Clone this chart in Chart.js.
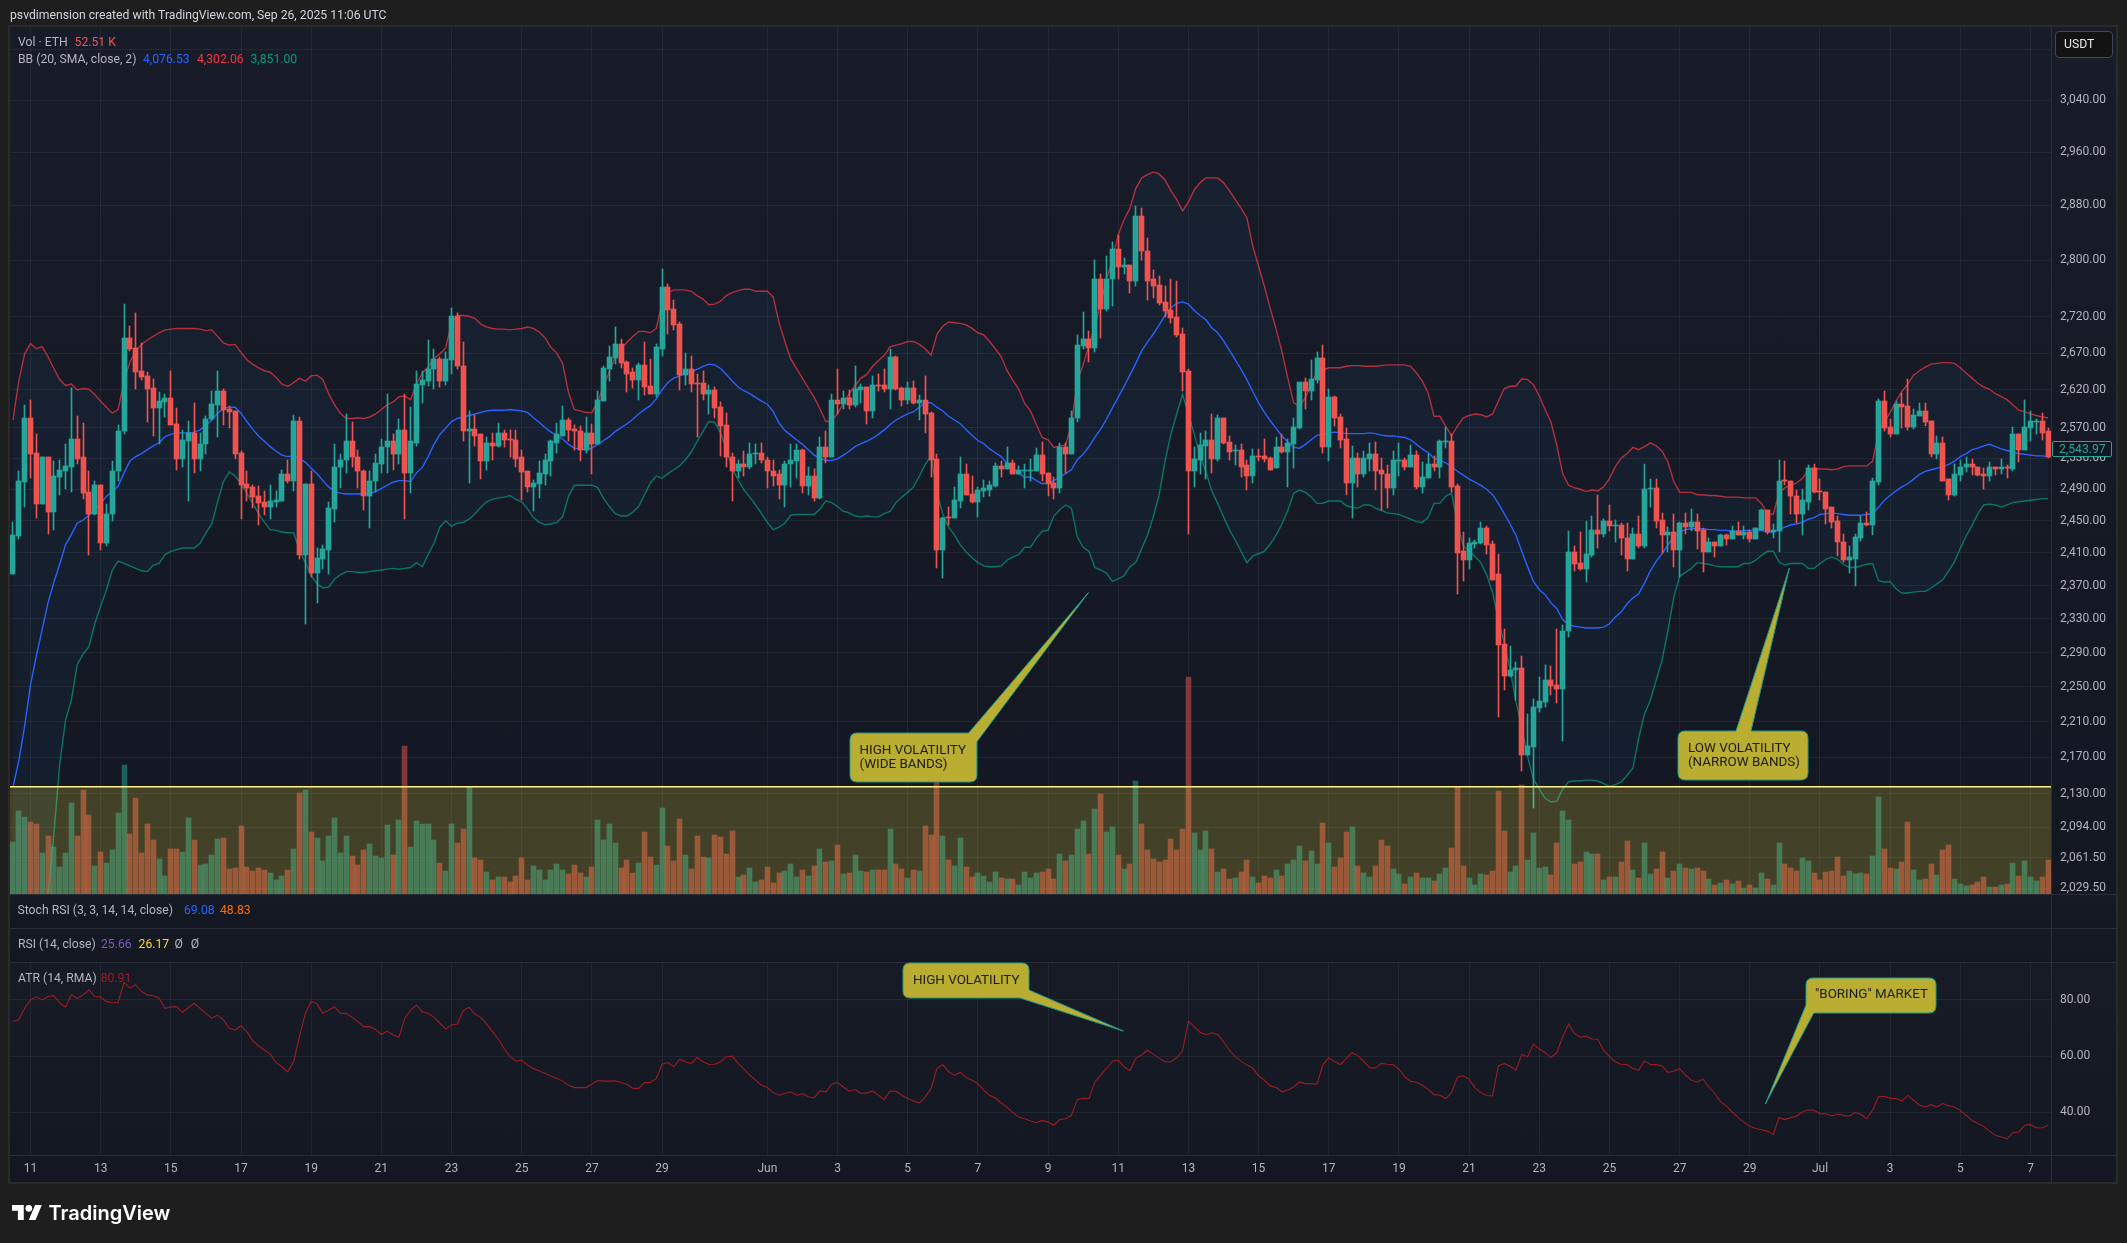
<!DOCTYPE html>
<html><head><meta charset="utf-8">
<script src="https://cdn.jsdelivr.net/npm/chart.js@4/dist/chart.umd.min.js"></script>
<style>
html,body{margin:0;padding:0;background:#1e1e1e;width:2127px;height:1243px;overflow:hidden;font-family:Roboto,sans-serif}
.a{position:absolute}
.t{position:absolute;white-space:pre;transform:translateY(-50%);font-size:12.2px;line-height:14px}
.c{font-size:13.4px}
canvas{position:absolute;display:block}
</style></head><body>
<div class="a" style="left:8px;top:25px;width:2106px;height:1155px;border:2px solid #2a2a2a"></div>
<div class="a" style="left:10px;top:27px;width:2106px;height:867px;background:linear-gradient(#181c28,#131722)"></div>
<div class="a" style="left:10px;top:894px;width:2106px;height:34px;background:linear-gradient(#161a25,#131722)"></div>
<div class="a" style="left:10px;top:928px;width:2106px;height:34px;background:linear-gradient(#161a25,#131722)"></div>
<div class="a" style="left:10px;top:962px;width:2106px;height:220px;background:linear-gradient(#171b26,#131722)"></div>
<canvas id="main" width="2106" height="867" style="left:10px;top:27px"></canvas>
<canvas id="atr" width="2106" height="220" style="left:10px;top:962px"></canvas>
<div class="a" style="left:10px;top:894px;width:2106px;height:1px;background:#2a2e39"></div>
<div class="a" style="left:10px;top:928px;width:2106px;height:1px;background:#2a2e39"></div>
<div class="a" style="left:10px;top:962px;width:2106px;height:1px;background:#2a2e39"></div>
<div class="a" style="left:10px;top:1155px;width:2106px;height:1px;background:#2a2e39"></div>
<div class="a" style="left:2051px;top:27px;width:1px;height:1155px;background:#2a2e39"></div>
<svg class="a" style="left:0;top:0" width="2127" height="1243">
<g fill="#b9ae32" stroke="#1f9c8c" stroke-width="1">
<path d="M857,733 H968.6 L1088.4,592.7 L976.9,741.7 V775 Q976.9,782 970,782 H857 Q850,782 850,775 V740 Q850,733 857,733 Z"/>
<path d="M1685,731 H1736 L1789.4,568 L1751,731 H1801 Q1808,731 1808,738 V773 Q1808,780 1801,780 H1685 Q1678,780 1678,773 V738 Q1678,731 1685,731 Z"/>
<path d="M910,963 H1022 Q1029,963 1029,970 V990 L1123.3,1031 L1020,998 H910 Q903,998 903,991 V970 Q903,963 910,963 Z"/>
<path d="M1813,978 H1929 Q1936,978 1936,985 V1006 Q1936,1013 1929,1013 H1813.7 L1765.4,1104 L1806,1005 V985 Q1806,978 1813,978 Z"/>
</g>
<g transform="translate(12,1201.6) scale(.84)" fill="#fff"><path d="M14 22H7V11H0V4h14v18zM28 22h-8l7.5-18h8L28 22z"/><circle cx="20" cy="8" r="4"/></g>
</svg>
<div class="a" style="left:2055px;top:31px;width:56px;height:25px;background:#131313;border:1px solid #434651;border-radius:4px"></div>
<div class="a" style="left:2052px;top:441px;width:58px;height:14px;background:#131722;border:1px solid #26a69a;border-radius:2px"></div>
<div id="texts"></div>
<script>
const opens=[2384,2431,2499,2583,2537,2471,2531,2461,2506,2514,2519,2555,2531,2487,2458,2496,2422,2458,2513,2565,
2691,2677,2645,2639,2623,2596,2604,2609,2575,2529,2553,2563,2529,2548,2581,2600,2619,2594,2592,2537,
2497,2493,2481,2474,2468,2474,2475,2509,2501,2579,2407,2497,2385,2403,2414,2465,2518,2527,2553,2532,
2514,2481,2500,2523,2544,2552,2536,2567,2511,2550,2627,2632,2648,2662,2632,2661,2721,2653,2566,2568,
2561,2526,2550,2546,2563,2555,2554,2531,2513,2493,2497,2510,2526,2550,2559,2580,2568,2566,2540,2563,
2548,2605,2649,2663,2683,2658,2644,2633,2654,2626,2615,2676,2762,2731,2710,2640,2648,2630,2630,2615,
2620,2597,2574,2532,2513,2522,2518,2536,2537,2528,2514,2509,2496,2522,2526,2540,2494,2507,2479,2545,
2531,2606,2601,2609,2600,2620,2624,2592,2627,2627,2622,2665,2623,2606,2623,2602,2607,2589,2529,2413,
2454,2453,2475,2510,2484,2474,2488,2489,2494,2520,2516,2524,2510,2513,2514,2514,2534,2511,2498,2491,
2545,2535,2582,2680,2689,2677,2774,2731,2773,2817,2791,2793,2771,2865,2814,2773,2765,2741,2729,2720,
2696,2646,2514,2527,2546,2554,2529,2582,2551,2539,2541,2521,2507,2533,2533,2530,2517,2545,2538,2549,
2570,2631,2619,2634,2663,2545,2610,2584,2555,2498,2530,2510,2529,2535,2515,2510,2491,2526,2527,2519,
2534,2493,2505,2523,2518,2551,2553,2494,2412,2401,2421,2422,2441,2421,2384,2300,2263,2269,2272,2173,
2182,2226,2233,2258,2252,2247,2315,2411,2397,2390,2407,2438,2433,2450,2443,2445,2429,2403,2433,2418,
2490,2491,2451,2432,2436,2414,2447,2442,2449,2438,2411,2423,2419,2432,2427,2437,2432,2436,2427,2439,
2464,2436,2437,2501,2501,2482,2459,2474,2517,2487,2487,2467,2450,2424,2401,2403,2429,2447,2445,2499,
2605,2571,2561,2601,2598,2571,2585,2592,2579,2535,2550,2503,2483,2508,2518,2523,2519,2509,2507,2518,
2516,2519,2516,2561,2541,2570,2578,2579,2565];
const closes=[2432,2500,2583,2536,2471,2531,2461,2507,2515,2520,2555,2529,2485,2458,2496,2422,2459,2514,2566,2691,
2676,2644,2637,2622,2596,2605,2609,2574,2529,2554,2563,2529,2549,2581,2601,2619,2593,2591,2536,2496,
2492,2480,2472,2468,2475,2476,2509,2501,2579,2407,2497,2385,2404,2415,2466,2519,2528,2553,2531,2513,
2481,2501,2524,2545,2552,2536,2567,2511,2552,2628,2633,2649,2662,2632,2662,2721,2652,2566,2568,2559,
2526,2550,2546,2563,2554,2554,2529,2512,2493,2498,2511,2527,2552,2561,2580,2567,2565,2540,2563,2548,
2606,2650,2665,2683,2657,2642,2633,2654,2624,2615,2678,2762,2730,2709,2640,2648,2628,2628,2615,2620,
2596,2572,2531,2513,2522,2518,2536,2537,2527,2513,2507,2496,2523,2527,2540,2494,2507,2479,2545,2531,
2606,2601,2609,2600,2622,2624,2592,2627,2626,2622,2665,2622,2606,2623,2602,2607,2588,2528,2413,2454,
2453,2476,2510,2483,2474,2489,2491,2496,2520,2516,2524,2510,2515,2513,2515,2534,2510,2497,2491,2545,
2535,2583,2681,2689,2677,2774,2731,2774,2817,2790,2793,2771,2865,2813,2771,2764,2740,2728,2719,2695,
2644,2514,2529,2547,2554,2529,2582,2550,2538,2541,2519,2507,2533,2531,2529,2515,2545,2538,2550,2571,
2631,2619,2635,2663,2545,2610,2583,2554,2498,2530,2510,2530,2535,2514,2509,2491,2527,2527,2519,2534,
2493,2506,2523,2518,2553,2553,2493,2410,2401,2422,2424,2441,2420,2377,2299,2263,2270,2272,2173,2183,
2227,2234,2258,2251,2247,2316,2411,2396,2390,2409,2438,2433,2450,2443,2445,2428,2403,2433,2418,2490,
2491,2450,2432,2436,2414,2447,2442,2449,2437,2411,2423,2419,2432,2427,2437,2432,2436,2427,2441,2464,
2436,2438,2501,2500,2481,2459,2476,2517,2486,2486,2465,2449,2423,2401,2405,2430,2447,2445,2500,2605,
2570,2561,2601,2597,2571,2587,2592,2578,2535,2550,2501,2483,2509,2519,2523,2518,2508,2507,2518,2516,
2519,2517,2561,2541,2571,2579,2579,2563,2532];
const highs=[2448,2513,2600,2607,2562,2531,2532,2526,2528,2549,2623,2585,2576,2513,2500,2496,2471,2526,2574,2738,
2708,2725,2684,2644,2635,2617,2615,2645,2596,2567,2579,2602,2563,2585,2619,2646,2622,2598,2592,2539,
2514,2496,2494,2488,2496,2488,2515,2528,2587,2584,2497,2514,2416,2420,2474,2548,2535,2588,2578,2540,
2515,2513,2536,2555,2615,2562,2581,2614,2597,2645,2645,2688,2676,2665,2671,2733,2725,2685,2592,2587,
2562,2557,2563,2576,2567,2567,2567,2540,2513,2502,2526,2536,2554,2576,2598,2583,2574,2572,2584,2575,
2618,2653,2680,2706,2689,2659,2650,2657,2685,2662,2683,2788,2767,2744,2713,2670,2666,2642,2646,2627,
2624,2604,2589,2537,2527,2539,2550,2549,2550,2531,2527,2515,2526,2548,2548,2542,2519,2516,2557,2566,
2614,2648,2619,2620,2653,2628,2624,2639,2642,2648,2676,2666,2624,2631,2632,2613,2639,2591,2536,2455,
2468,2493,2532,2523,2507,2493,2502,2501,2524,2526,2545,2527,2520,2522,2529,2543,2551,2511,2506,2550,
2550,2592,2695,2727,2700,2800,2780,2807,2827,2836,2804,2793,2879,2876,2832,2786,2777,2763,2774,2771,
2704,2648,2545,2563,2566,2588,2586,2582,2559,2547,2549,2527,2542,2542,2555,2531,2558,2562,2555,2583,
2570,2636,2660,2672,2681,2622,2612,2588,2570,2546,2537,2539,2550,2551,2530,2521,2539,2550,2530,2547,
2539,2525,2535,2533,2554,2571,2562,2497,2436,2429,2426,2448,2444,2425,2409,2318,2298,2279,2286,2219,
2236,2261,2275,2274,2318,2323,2437,2418,2436,2450,2456,2483,2452,2470,2451,2447,2447,2441,2456,2522,
2503,2503,2460,2442,2459,2449,2460,2465,2458,2441,2429,2424,2434,2434,2443,2449,2443,2439,2441,2465,
2464,2446,2527,2526,2501,2489,2490,2521,2523,2503,2487,2467,2456,2434,2419,2433,2456,2461,2504,2608,
2619,2581,2605,2616,2635,2594,2603,2603,2579,2559,2557,2503,2522,2527,2531,2529,2519,2517,2525,2519,
2529,2521,2571,2562,2606,2592,2581,2589,2570];
const lows=[2384,2427,2468,2504,2453,2471,2434,2439,2483,2490,2487,2522,2477,2408,2457,2413,2418,2450,2500,2561,
2673,2622,2634,2578,2559,2548,2584,2573,2515,2518,2475,2511,2513,2535,2580,2558,2574,2570,2529,2452,
2475,2466,2445,2457,2452,2467,2475,2498,2488,2403,2324,2380,2349,2390,2384,2449,2492,2511,2518,2492,
2463,2441,2486,2511,2511,2515,2522,2452,2485,2546,2602,2626,2622,2624,2627,2642,2649,2552,2498,2546,
2503,2515,2528,2545,2544,2532,2518,2476,2487,2462,2479,2496,2507,2537,2559,2553,2540,2526,2537,2510,
2548,2605,2632,2655,2650,2617,2623,2607,2613,2614,2611,2666,2696,2702,2620,2627,2617,2557,2606,2588,
2583,2533,2519,2475,2505,2507,2516,2523,2524,2492,2494,2478,2468,2493,2505,2485,2483,2475,2478,2524,
2531,2588,2594,2594,2597,2602,2575,2583,2618,2617,2594,2620,2598,2601,2601,2580,2563,2506,2391,2379,
2445,2453,2466,2483,2472,2455,2480,2481,2493,2506,2516,2509,2509,2491,2501,2514,2501,2482,2478,2485,
2511,2535,2578,2676,2658,2672,2691,2728,2735,2773,2780,2754,2764,2801,2744,2747,2737,2720,2712,2692,
2619,2434,2493,2509,2503,2511,2526,2549,2527,2521,2506,2489,2498,2526,2525,2515,2517,2537,2493,2517,
2570,2595,2607,2630,2537,2526,2572,2543,2483,2453,2493,2506,2514,2489,2463,2466,2483,2507,2515,2519,
2490,2485,2505,2514,2505,2543,2487,2360,2376,2390,2416,2421,2409,2377,2215,2246,2262,2235,2155,2173,
2114,2221,2227,2241,2232,2188,2308,2388,2389,2374,2405,2416,2430,2437,2424,2407,2388,2402,2416,2416,
2468,2441,2410,2411,2393,2381,2434,2437,2415,2387,2411,2405,2419,2420,2427,2432,2427,2424,2427,2439,
2433,2429,2411,2496,2458,2447,2432,2463,2485,2476,2446,2441,2406,2399,2385,2370,2425,2443,2432,2496,
2565,2558,2561,2570,2567,2568,2585,2572,2532,2529,2500,2476,2482,2500,2512,2508,2507,2490,2500,2508,
2509,2505,2514,2525,2541,2552,2562,2554,2530];
const volumes=[80,128,119,111,108,64,90,73,41,64,140,90,161,122,43,65,48,68,125,199,
93,148,64,108,83,54,28,70,70,65,117,83,45,46,60,85,87,39,40,105,
42,36,40,37,32,22,28,37,70,156,161,96,87,51,90,117,63,90,59,45,
68,77,59,56,107,60,114,228,73,113,108,108,83,48,36,108,79,100,165,56,
53,34,22,26,26,19,28,56,22,43,37,22,37,46,37,31,45,32,26,42,
114,83,108,79,40,53,32,48,96,57,45,133,74,51,116,60,39,90,57,56,
91,88,62,97,26,29,40,19,22,42,17,32,36,46,26,37,28,43,70,49,
51,76,31,32,60,36,34,37,37,37,100,46,39,25,37,36,105,91,178,90,
53,43,87,42,26,32,28,19,34,25,23,23,14,34,25,32,34,39,23,62,
51,60,100,113,62,131,155,96,104,60,39,46,175,108,68,54,49,53,85,68,
100,335,94,68,97,70,34,39,23,25,34,53,26,17,28,25,37,28,46,53,
74,51,66,46,110,79,42,56,96,104,43,32,26,43,83,74,39,31,15,26,
32,25,25,20,31,40,71,165,43,25,14,31,29,36,159,97,34,43,168,53,
94,40,42,29,79,128,114,46,49,65,62,62,22,26,26,49,82,37,25,79,
31,39,65,25,36,46,40,39,40,36,23,14,17,22,15,20,9,14,9,32,
23,14,79,46,40,36,56,51,32,22,34,36,57,28,36,31,32,31,59,150,
70,40,39,49,111,37,22,23,46,29,68,76,23,15,12,14,19,26,11,11,
14,15,48,28,51,26,20,26,52.51];
const bbUpper=[2580,2632,2669,2683,2676,2679,2665,2649,2634,2626,2628,2620,2622,2621,2614,2605,2597,2589,2594,2632,
2658,2673,2682,2688,2693,2698,2702,2703,2704,2704,2704,2704,2703,2701,2702,2693,2684,2681,2682,2671,
2661,2655,2650,2646,2644,2637,2628,2625,2630,2636,2632,2639,2640,2634,2615,2600,2589,2582,2582,2583,
2582,2584,2588,2594,2600,2604,2611,2612,2607,2628,2643,2651,2663,2669,2677,2712,2722,2722,2721,2718,
2710,2706,2704,2703,2703,2702,2703,2704,2706,2704,2699,2691,2678,2670,2656,2617,2594,2592,2590,2590,
2604,2626,2645,2665,2676,2685,2693,2700,2700,2698,2704,2739,2754,2758,2758,2758,2756,2750,2745,2737,
2738,2742,2750,2754,2757,2759,2759,2756,2756,2756,2748,2712,2686,2662,2649,2636,2623,2610,2595,2578,
2579,2588,2602,2615,2626,2636,2641,2652,2660,2667,2679,2681,2683,2686,2686,2682,2676,2667,2696,2707,
2713,2712,2711,2709,2704,2698,2695,2686,2676,2665,2646,2633,2621,2602,2592,2574,2557,2554,2544,2546,
2547,2574,2632,2654,2681,2707,2739,2773,2801,2837,2859,2876,2905,2921,2926,2930,2927,2918,2902,2889,
2872,2885,2903,2914,2921,2921,2921,2914,2902,2889,2876,2862,2821,2792,2763,2732,2703,2672,2636,2603,
2598,2610,2627,2645,2647,2650,2650,2650,2652,2653,2653,2652,2652,2652,2653,2654,2654,2654,2654,2652,
2643,2632,2616,2585,2585,2572,2559,2572,2583,2586,2588,2587,2584,2588,2605,2622,2625,2625,2635,2634,
2627,2612,2594,2577,2547,2510,2495,2492,2490,2487,2489,2488,2493,2504,2519,2530,2536,2544,2541,2545,
2550,2546,2539,2525,2500,2486,2486,2486,2483,2483,2482,2482,2481,2480,2480,2480,2479,2479,2479,2472,
2459,2458,2485,2492,2495,2498,2504,2515,2517,2516,2516,2515,2516,2519,2520,2520,2520,2520,2526,2564,
2577,2590,2605,2618,2628,2640,2646,2651,2655,2656,2657,2657,2656,2650,2643,2636,2629,2624,2621,2615,
2611,2607,2600,2593,2591,2588,2586,2584,2583];
const bbMiddle=[2137,2166,2205,2252,2286,2317,2349,2374,2396,2420,2433,2447,2451,2457,2464,2472,2481,2487,2494,2511,
2526,2532,2536,2541,2546,2550,2558,2561,2563,2563,2563,2564,2567,2573,2580,2589,2595,2597,2597,2589,
2578,2568,2559,2552,2545,2539,2534,2532,2533,2529,2525,2517,2510,2501,2493,2487,2485,2484,2484,2484,
2484,2485,2487,2491,2495,2499,2501,2501,2500,2511,2518,2532,2548,2561,2569,2578,2582,2584,2586,2588,
2590,2592,2593,2593,2593,2594,2593,2592,2590,2583,2577,2570,2564,2560,2555,2548,2543,2542,2541,2543,
2548,2553,2558,2565,2570,2575,2581,2588,2594,2599,2608,2620,2630,2636,2639,2642,2645,2648,2652,2655,
2654,2649,2641,2632,2624,2619,2615,2610,2605,2601,2591,2576,2566,2560,2554,2548,2541,2534,2530,2527,
2527,2529,2534,2539,2545,2549,2552,2556,2561,2567,2574,2580,2584,2588,2591,2597,2603,2603,2597,2592,
2585,2580,2575,2567,2560,2553,2549,2542,2537,2532,2523,2517,2511,2505,2506,2501,2497,2498,2501,2506,
2510,2515,2528,2535,2545,2557,2568,2581,2596,2610,2625,2640,2656,2673,2685,2696,2709,2722,2733,2739,
2741,2738,2729,2722,2716,2705,2698,2687,2674,2661,2648,2634,2618,2603,2590,2579,2569,2559,2551,2544,
2543,2548,2554,2560,2560,2563,2564,2563,2562,2562,2562,2562,2563,2562,2560,2559,2559,2558,2557,2554,
2548,2542,2537,2530,2527,2524,2519,2513,2508,2503,2499,2495,2490,2483,2472,2459,2446,2432,2412,2393,
2375,2365,2359,2349,2342,2329,2323,2321,2320,2319,2319,2319,2320,2324,2332,2338,2348,2355,2360,2373,
2388,2400,2409,2420,2430,2436,2439,2440,2440,2440,2439,2439,2438,2438,2437,2437,2438,2438,2438,2438,
2436,2436,2439,2442,2445,2446,2448,2452,2454,2458,2459,2460,2459,2458,2457,2457,2457,2458,2459,2467,
2476,2482,2488,2493,2497,2503,2509,2513,2515,2517,2519,2522,2526,2532,2536,2541,2543,2546,2548,2545,
2542,2540,2538,2536,2535,2534,2533,2533,2532];
const bbLower=[1660,1720,1780,1840,1900,1960,2023,2086,2163,2212,2235,2276,2288,2297,2324,2345,2365,2389,2400,2397,
2394,2391,2388,2387,2395,2397,2408,2412,2414,2416,2416,2416,2422,2435,2446,2474,2500,2512,2507,2497,
2485,2472,2459,2448,2439,2438,2436,2435,2435,2413,2398,2382,2372,2367,2368,2378,2383,2387,2387,2386,
2386,2387,2388,2389,2390,2391,2390,2391,2392,2398,2393,2408,2422,2442,2450,2443,2447,2448,2452,2459,
2467,2474,2477,2479,2480,2482,2477,2474,2465,2454,2448,2445,2446,2448,2455,2481,2495,2495,2495,2495,
2492,2478,2468,2459,2456,2456,2461,2468,2483,2498,2507,2504,2510,2515,2520,2528,2538,2552,2565,2578,
2577,2563,2541,2517,2502,2489,2480,2470,2459,2448,2439,2442,2447,2457,2458,2458,2458,2458,2465,2475,
2473,2468,2462,2460,2456,2455,2456,2455,2455,2459,2462,2473,2480,2486,2493,2507,2522,2533,2485,2459,
2442,2432,2420,2411,2404,2398,2394,2393,2393,2394,2401,2405,2408,2417,2417,2428,2437,2438,2456,2464,
2470,2466,2430,2417,2412,2392,2389,2385,2375,2378,2382,2393,2398,2415,2432,2455,2483,2526,2561,2588,
2614,2588,2561,2534,2512,2488,2472,2455,2439,2426,2412,2398,2406,2409,2412,2421,2432,2446,2463,2485,
2489,2486,2480,2472,2472,2475,2475,2475,2469,2467,2466,2470,2470,2466,2463,2460,2459,2458,2455,2452,
2449,2448,2454,2472,2472,2481,2485,2446,2419,2412,2406,2398,2383,2362,2329,2301,2271,2233,2204,2171,
2146,2135,2125,2121,2122,2135,2143,2144,2144,2145,2145,2144,2141,2138,2140,2143,2150,2158,2192,2219,
2235,2258,2281,2316,2356,2381,2386,2391,2398,2397,2396,2394,2393,2393,2393,2393,2397,2397,2401,2407,
2412,2412,2399,2395,2397,2397,2397,2391,2391,2397,2402,2405,2402,2396,2392,2392,2394,2396,2397,2376,
2374,2375,2366,2361,2361,2362,2363,2363,2367,2372,2377,2388,2399,2416,2431,2444,2459,2470,2471,2470,
2467,2470,2473,2474,2475,2476,2477,2478,2478];
const atrValues=[72.3,72.9,77,80,81.2,80,81.2,81.5,79,77.4,81.8,80.6,81.8,83.6,81.2,81,79.4,79,79.2,86.3,
84.2,85.4,83,81.8,81.5,80.6,77,77.5,77.6,75.6,77.3,78.8,77,75.2,73.5,74.6,72.9,69.9,69.3,70.7,
68.7,65.5,63.7,62.1,60.7,57.7,56.2,54.4,58,66.9,75.2,79.5,78.6,75.2,76.4,77.6,75.2,75.2,73.8,72.3,
70.5,70.5,69.5,67.7,68.9,67.5,66.7,73.5,76.4,78.2,75.8,75.2,73.8,71.7,69.6,71.1,71.4,76.2,77.4,74.9,
73.8,71.4,68.7,66,62.7,59.8,58.2,58.5,56.8,55.5,54.8,53.8,52.9,52,51.1,49.6,48.8,48.8,48.8,50,
51.3,51.1,51.1,51.2,50.6,50,48.5,48.5,50.6,50.6,52,57.1,57.7,56.2,58.9,58,57.4,59.5,58,57,
57.1,58,59.8,60,57.4,55.4,53.2,51.4,49.6,48.8,47,46.1,46.7,47.3,46.1,46.7,45.5,45.1,47.6,47.3,
50,50.6,49,47.5,48.1,46.7,46.9,47.6,46.1,44.5,47.6,47.5,46.1,44.9,44,43.3,45.5,48.5,55.6,57,
54.4,53.2,54.2,52.4,51.4,50.2,47.9,46.1,45.1,43.3,41.7,39.9,38.3,37.7,36.9,36.3,37.1,36.5,35.4,37.4,
37.7,38.9,44.6,45,44.9,50.8,53.2,55.6,58.2,58.6,56.2,54.8,59.2,60.4,62.1,60.7,59.2,58,58,59.4,
61.9,72.4,70.5,68.5,67.6,68.3,67.7,65.1,62.1,59.8,58.2,56.8,55.8,53,51.4,49.4,48.8,47.3,47.9,49,
50.8,50.2,50.2,50,57,59.4,58,57,59.2,61.3,60.1,58,55.8,55.8,57.4,57.1,57,55.4,52.6,51,
50.7,49.6,48.2,46.3,46.1,44.9,47,52.6,53,51.8,48.7,47,46,45.8,56.5,57.4,56.4,55,60.6,59.8,
64.3,62.5,61.3,59.5,61.3,66.9,71.4,68.1,66.7,67.1,66.1,66,62.1,59.8,58,57,57,55.6,55,58.3,
57,57,56.5,54.2,54.6,55.5,53.2,51.4,50.8,51.8,49,46.7,43.8,42.2,40.1,38.1,36.5,35,34.2,33.8,
33.3,32.1,38.1,37.4,38.1,38.6,40.1,40.9,40.7,39.5,39.5,38.7,39.3,38.9,38.6,39.9,39.2,37.7,40.7,45.5,
45.7,44.9,44.9,44,46,44.3,42.5,41.9,42.7,41.9,43.1,42.3,41.9,40.7,38.9,37.1,36,35,33.3,31.8,
31.2,30.5,32.7,33,35.4,35.6,34.5,34.5,35.4];
const priceTicks=[3120,3040,2960,2880,2800,2720,2670,2620,2570,2530,2490,2450,2410,2370,2330,2290,2250,2210,2170,2130,2094,2061.5,2029.5];
const atrTicks=[40,60,80];
const xTickIndex=[3,15,27,39,51,63,75,87,99,111,129,141,153,165,177,189,201,213,225,237,249,261,273,285,297,309,321,333,345];
const xTickText=['11','13','15','17','19','21','23','25','27','29','Jun','3','5','7','9','11','13','15','17','19','21','23','25','27','29','Jul','3','5','7'];
const zoneFloorPrice=2137.5;

const labels=closes.map((_,i)=>String(i));
const UP='#26a69a',DOWN='#ef5350';
const isUp=i=>closes[i]>=opens[i];
const gridColor='rgba(240,243,250,0.06)';
const tickFont={family:'Roboto',size:12};
const fmt=v=>Number(v).toLocaleString('en-US',{minimumFractionDigits:2,maximumFractionDigits:2});
const noPad=s=>{s.paddingTop=0;s.paddingBottom=0;s.paddingLeft=0;s.paddingRight=0;};
const xScale=showLabels=>({
  type:'category',offset:true,
  grid:{color:gridColor,offset:false,drawTicks:false},
  border:{display:false},
  afterBuildTicks:s=>{s.ticks=xTickIndex.map(v=>({value:v}));},
  afterFit:s=>{s.height=showLabels?27:0;noPad(s);},
  ticks:{display:showLabels,autoSkip:false,maxRotation:0,minRotation:0,padding:7,color:'#b2b5be',font:tickFont,
    callback:v=>xTickText[xTickIndex.indexOf(v)]}
});
const yRight=(extra)=>Object.assign({
  position:'right',
  grid:{color:gridColor,drawTicks:false},
  border:{display:false},
  afterFit:s=>{s.width=65;noPad(s);},
},extra);
const zonePlugin={id:'zone',afterDatasetsDraw(c){
  const {ctx,chartArea:a,scales:{y}}=c;
  const top=y.getPixelForValue(zoneFloorPrice);
  ctx.save();
  ctx.fillStyle='rgba(255,235,59,0.2)';
  ctx.fillRect(a.left,top,a.right-a.left,a.bottom-top);
  ctx.fillStyle='#fff38a';
  ctx.fillRect(a.left,Math.round(top)-1,a.right-a.left,1.5);
  ctx.restore();
}};
/* TradingView snaps its bars to whole device pixels: keep the scale's positions, only round them. */
const snapPlugin={id:'snap',afterDatasetsUpdate(c){
  c.getSortedVisibleDatasetMetas().forEach(m=>{
    if(m.type!=='bar')return;
    m.data.forEach(el=>{
      el.x=Math.round(el.x-0.5)+0.5;
      const top=Math.round(el.y),bot=Math.round(el.base);
      el.y=top;el.base=bot===top?top+1:bot;el.height=el.base-el.y;
    });
  });
}};
Chart.defaults.animation=false;
new Chart(document.getElementById('main'),{
  data:{labels,datasets:[
    {type:'bar',yAxisID:'yVol',order:6,grouped:false,data:volumes,barThickness:5,borderWidth:0,
      backgroundColor:volumes.map((_,i)=>isUp(i)?'rgba(38,166,154,.5)':'rgba(239,83,80,.5)')},
    {type:'line',yAxisID:'y',order:5,data:bbUpper,borderColor:'rgba(242,54,69,.72)',borderWidth:1.4,pointRadius:0,tension:0,
      fill:'+2',backgroundColor:'rgba(33,150,243,0.05)'},
    {type:'line',yAxisID:'y',order:4,data:bbMiddle,borderColor:'#2962ff',borderWidth:1.4,pointRadius:0,tension:0,fill:false},
    {type:'line',yAxisID:'y',order:3,data:bbLower,borderColor:'rgba(8,153,129,.72)',borderWidth:1.4,pointRadius:0,tension:0,fill:false},
    {type:'bar',yAxisID:'y',order:2,grouped:false,data:lows.map((l,i)=>[l,highs[i]]),barThickness:1,borderWidth:0,
      backgroundColor:closes.map((_,i)=>isUp(i)?UP:DOWN)},
    {type:'bar',yAxisID:'y',order:1,grouped:false,data:opens.map((o,i)=>[o,closes[i]]),barThickness:5,minBarLength:1,borderWidth:0,
      backgroundColor:closes.map((_,i)=>isUp(i)?UP:DOWN)}
  ]},
  options:{responsive:false,animation:false,devicePixelRatio:1,layout:{padding:0},
    plugins:{legend:{display:false},tooltip:{enabled:false},filler:{propagate:false}},
    scales:{
      x:xScale(false),
      y:yRight({type:'logarithmic',min:2023.3,max:3156,
        afterBuildTicks:s=>{s.ticks=priceTicks.map(v=>({value:v}));},
        ticks:{autoSkip:false,padding:9,color:'#b2b5be',font:tickFont,callback:v=>fmt(v)}}),
      yVol:{type:'linear',display:false,min:0,max:1340,position:'left'}
    }},
  plugins:[snapPlugin,zonePlugin]
});
new Chart(document.getElementById('atr'),{
  data:{labels,datasets:[{type:'line',data:atrValues,borderColor:'#9c1c24',borderWidth:1.1,pointRadius:0,tension:0,fill:false}]},
  options:{responsive:false,animation:false,devicePixelRatio:1,layout:{padding:0},
    plugins:{legend:{display:false},tooltip:{enabled:false}},
    scales:{x:xScale(true),
      y:yRight({type:'linear',min:24.8,max:93.5,
        afterBuildTicks:s=>{s.ticks=atrTicks.map(v=>({value:v}));},
        ticks:{autoSkip:false,padding:9,color:'#b2b5be',font:tickFont,callback:v=>fmt(v)}})}}
});
const labelRows=[
 ['psvdimension created with TradingView.com, Sep 26, 2025 11:06 UTC',10,15,'#d1d4dc',''],
 ['Vol · ETH',18,42,'#b2b5be',''],['52.51 K',74.6,42,'#ef5350',''],
 ['BB (20, SMA, close, 2)',18,59,'#b2b5be',''],['4,076.53',143,59,'#2962ff',''],['4,302.06',197,59,'#f23645',''],['3,851.00',250.5,59,'#089981',''],
 ['Stoch RSI (3, 3, 14, 14, close)',17.5,910,'#b2b5be',''],['69.08',184,910,'#2962ff',''],['48.83',220,910,'#ff6d00',''],
 ['RSI (14, close)',18,944,'#b2b5be',''],['25.66',101,944,'#7e57c2',''],['26.17',138.6,944,'#fdd835',''],['Ø',174.4,944,'#b2b5be',''],['Ø',190.7,944,'#b2b5be',''],
 ['ATR (14, RMA)',18,978,'#b2b5be',''],['80.91',100.7,978,'#9c1c24',''],
 ['USDT',2064,44,'#e6e8ee',''],['2,543.97',2059,448.5,'#26a69a',''],
 ['HIGH VOLATILITY',859.5,750,'#1b1b14','c'],['(WIDE BANDS)',859.5,764,'#1b1b14','c'],
 ['LOW VOLATILITY',1688,748,'#1b1b14','c'],['(NARROW BANDS)',1688,762,'#1b1b14','c'],
 ['HIGH VOLATILITY',913,980,'#1b1b14','c'],['"BORING" MARKET',1815,994,'#1b1b14','c']
];
const host=document.getElementById('texts');
for(const [s,x,y,c,k] of labelRows){const d=document.createElement('div');d.className='t '+k;d.textContent=s;d.style.left=x+'px';d.style.top=y+'px';d.style.color=c;host.appendChild(d);}
const brand=document.createElement('div');brand.className='t';brand.textContent='TradingView';
brand.style.cssText='left:48.5px;top:1213px;color:#fff;font-family:Inter,sans-serif;font-weight:600;font-size:20px;line-height:24px';host.appendChild(brand);
</script>
</body></html>
